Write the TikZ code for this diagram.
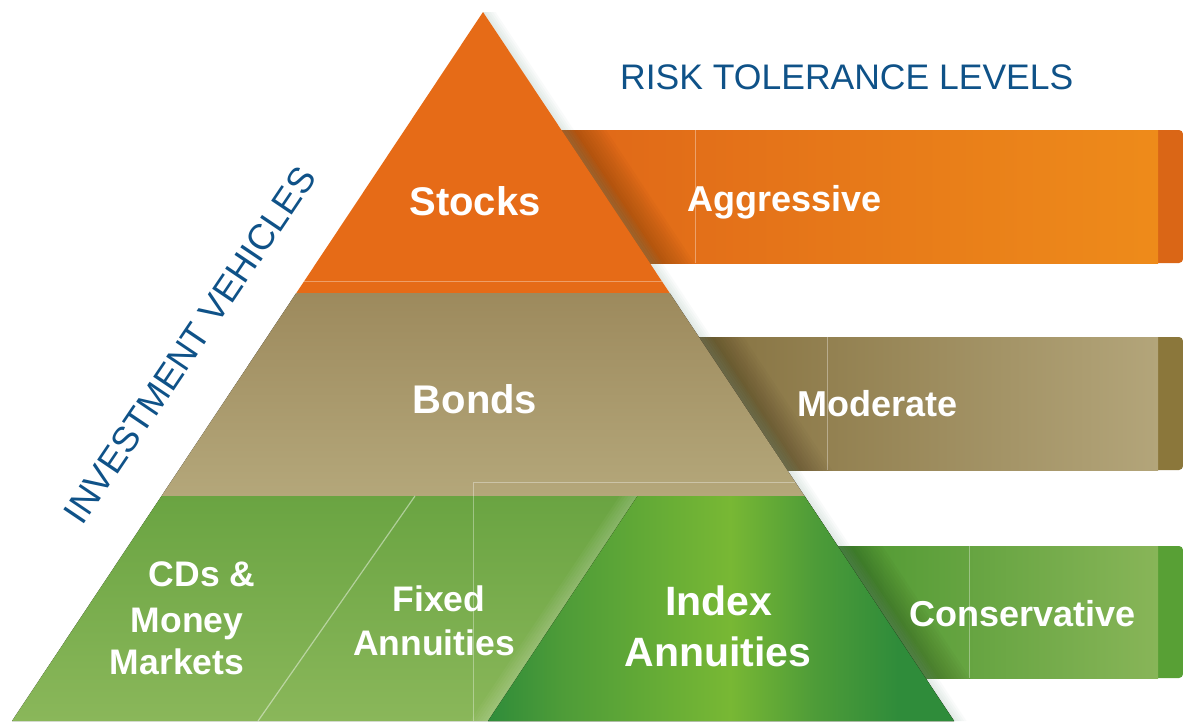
\documentclass[tikz,border=0pt]{standalone}
\usepackage{fontspec}
\setmainfont{Liberation Sans}
\definecolor{stockc}{HTML}{E66B17}
\definecolor{bondT}{HTML}{9D8A5D}
\definecolor{bondB}{HTML}{B4A77A}
\definecolor{greenT}{HTML}{6AA442}
\definecolor{greenB}{HTML}{8AB75A}
\definecolor{idxD}{HTML}{2F8C3A}
\definecolor{idxM}{HTML}{4E9C38}
\definecolor{idxL}{HTML}{78B834}
\definecolor{aggL}{HTML}{DF6618}
\definecolor{aggR}{HTML}{EE8B1A}
\definecolor{aggEnd}{HTML}{DA6616}
\definecolor{modL}{HTML}{84703E}
\definecolor{modR}{HTML}{B3A57A}
\definecolor{modEnd}{HTML}{8B773B}
\definecolor{conL}{HTML}{4B972F}
\definecolor{conR}{HTML}{88B558}
\definecolor{conEnd}{HTML}{58A035}
\definecolor{titleblue}{HTML}{0F5288}
\definecolor{glowc}{HTML}{8FB0A0}
\pgfdeclarehorizontalshading{idxshade}{100bp}{color(0bp)=(idxD); color(25bp)=(idxD); color(33bp)=(idxM); color(51bp)=(idxL); color(60bp)=(idxM); color(69bp)=(idxD); color(75bp)=(idxD); color(100bp)=(idxD)}
\begin{document}
\begin{tikzpicture}[x=1pt,y=-1pt,
  lbl/.style={text=white,inner sep=0pt},
  faint/.style={draw=white,draw opacity=0.35,line width=0.8pt},
  barshadow/.style={black,opacity=0.02},
]
\useasboundingbox (0,0) rectangle (1183,721);
\fill[white] (0,0) rectangle (1183,721);

% key points of the pyramid
\coordinate (apex) at (483,12);
\coordinate (bl) at (12,721);
\coordinate (br) at (954,721);
\coordinate (s1l) at (296.3,293);
\coordinate (s1r) at (669.7,293);
\coordinate (s2l) at (161.5,496);
\coordinate (s2r) at (804.5,496);
\coordinate (ixtl) at (637.5,496);
\coordinate (ixbl) at (488,721);

% ---------- bars ----------
% aggressive
\fill[aggEnd, rounded corners=4pt] (540,130) rectangle (1183,263);
\fill[left color=aggL, right color=aggR] (540,130) rectangle (1158,263);
\draw[faint] (695,130) -- (695,263);
\begin{scope}
  \clip (540,130) rectangle (1183,263);
  \foreach \k in {1,...,14}
    \fill[barshadow] (483,12) -- (954,721) -- ({954+3.2*\k},721) -- ({483+3.2*\k},12) -- cycle;
\end{scope}
% moderate
\fill[modEnd, rounded corners=4pt] (680,337) rectangle (1183,470);
\fill[left color=modL, right color=modR] (680,337) rectangle (1158,470);
\draw[faint] (827,337) -- (827,470);
\begin{scope}
  \clip (680,337) rectangle (1183,470);
  \foreach \k in {1,...,14}
    \fill[barshadow] (483,12) -- (954,721) -- ({954+3.2*\k},721) -- ({483+3.2*\k},12) -- cycle;
\end{scope}
% conservative
\fill[conEnd, rounded corners=4pt] (820,546) rectangle (1183,678);
\fill[left color=conL, right color=conR] (820,546) rectangle (1158,678);
\draw[faint] (969,546) -- (969,678);
\begin{scope}
  \clip (820,546) rectangle (1183,678);
  \foreach \k in {1,...,14}
    \fill[barshadow] (483,12) -- (954,721) -- ({954+3.2*\k},721) -- ({483+3.2*\k},12) -- cycle;
\end{scope}

% soft glow outside right edge of pyramid
\foreach \k in {1,...,5}
  \fill[glowc,opacity=0.05] (483,12) -- (954,721) -- ({954+2.5*\k},721) -- ({483+2.5*\k},12) -- cycle;

% ---------- pyramid ----------
\fill[stockc] (apex) -- (s1r) -- (s1l) -- cycle;
\fill[top color=bondT, bottom color=bondB] (s1l) -- (s1r) -- (s2r) -- (s2l) -- cycle;
\fill[top color=greenT, bottom color=greenB] (s2l) -- (s2r) -- (br) -- (bl) -- cycle;
% light glow left of the index block
\begin{scope}
  \clip (s2l) -- (s2r) -- (br) -- (bl) -- cycle;
  \foreach \k in {1,...,6}
    \fill[white,opacity=0.035] (ixtl) -- (ixbl) -- ({488-3*\k},721) -- ({637.5-3*\k},496) -- cycle;
\end{scope}
\fill[shading=idxshade] (ixtl) -- (s2r) -- (br) -- (ixbl) -- cycle;

% thin lines
\draw[faint] (304.3,281) -- (661.7,281);
\draw[faint] (473,721) -- (473,482) -- (795.2,482);
\draw[draw=white,draw opacity=0.45,line width=1.2pt] (415,496) -- (258,721);

% ---------- texts ----------
\node[text=titleblue,inner sep=0pt,anchor=base west,font=\fontsize{35.5}{40}\selectfont] (title) at (620,89) {RISK TOLERANCE LEVELS};
\node[text=titleblue,inner sep=0pt,anchor=base,rotate=56,font=\fontsize{36}{40}\selectfont] (vehicles) at (200,352) {INVESTMENT VEHICLES};

\node[lbl,font=\bfseries\fontsize{40}{44}\selectfont] (stocks) at (475,201) {Stocks};
\node[lbl,font=\bfseries\fontsize{40}{44}\selectfont] (bonds) at (475,399) {Bonds};

\node[lbl,anchor=base,font=\bfseries\fontsize{35.5}{40}\selectfont] (cds1) at (202,586) {CDs \&};
\node[lbl,anchor=base,font=\bfseries\fontsize{35.5}{40}\selectfont] (cds2) at (187,632) {Money};
\node[lbl,anchor=base,font=\bfseries\fontsize{35.5}{40}\selectfont] (cds3) at (177,674) {Markets};

\node[lbl,anchor=base,font=\bfseries\fontsize{35.5}{40}\selectfont] (fix1) at (439,611) {Fixed};
\node[lbl,anchor=base,font=\bfseries\fontsize{35.5}{40}\selectfont] (fix2) at (434,655) {Annuities};

\node[lbl,anchor=base,font=\bfseries\fontsize{41}{46}\selectfont] (idx1) at (719,615) {Index};
\node[lbl,anchor=base,font=\bfseries\fontsize{41}{46}\selectfont] (idx2) at (718,666) {Annuities};

\node[lbl,anchor=base west,font=\bfseries\fontsize{36}{40}\selectfont] (agg) at (687,211) {Aggressive};
\node[lbl,anchor=base west,font=\bfseries\fontsize{36}{40}\selectfont] (mod) at (797,416) {Moderate};
\node[lbl,anchor=base west,font=\bfseries\fontsize{36}{40}\selectfont] (con) at (909,626) {Conservative};
\end{tikzpicture}
\end{document}
